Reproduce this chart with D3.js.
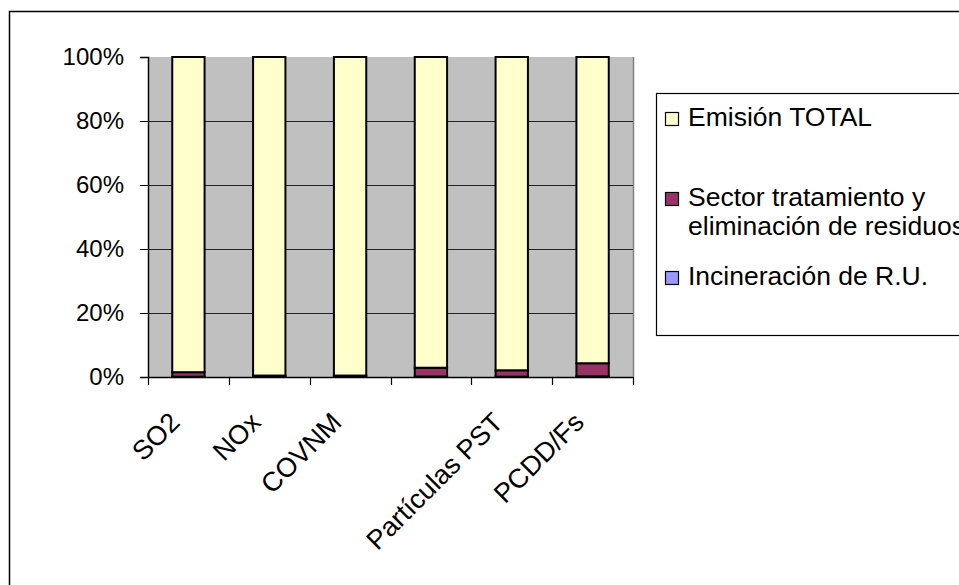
<!DOCTYPE html>
<html>
<head>
<meta charset="utf-8">
<script src="https://cdn.jsdelivr.net/npm/d3@7/dist/d3.min.js"></script>
<style>
  html, body { margin: 0; padding: 0; background: #ffffff; }
  svg { display: block; font-family: "Liberation Sans", Arial, sans-serif; }
</style>
</head>
<body>
<svg id="chart" width="959" height="585"></svg>
<script>
// Contaminantes (la cuarta categoría no lleva rótulo)
const categories = ["SO2", "NOx", "COVNM", "", "Partículas PST", "PCDD/Fs"];
// Participación (%) de cada serie en el total de cada contaminante
const incineracion = [0.1, 0.05, 0.05, 0.15, 0.1, 0.2];
const sectorResiduos = [1.4, 0.4, 0.4, 2.75, 2.0, 4.1];
const emisionTotal = [98.5, 99.55, 99.55, 97.1, 97.9, 95.7];
const seriesNames = ["Incineración de R.U.", "Sector tratamiento y eliminación de residuos", "Emisión TOTAL"];
const seriesColors = ["#9999ff", "#993366", "#ffffcc"];
const yTicks = [0, 0.2, 0.4, 0.6, 0.8, 1.0];

const svg = d3.select("#chart");

// Marco exterior del gráfico
svg.append("rect")
  .attr("x", 9.5).attr("y", 11.5)
  .attr("width", 1000).attr("height", 700)
  .attr("fill", "none").attr("stroke", "#000").attr("stroke-width", 1.5);

const plot = { left: 148, right: 633, top: 57, bottom: 377 };

const x = d3.scaleBand()
  .domain(d3.range(categories.length))
  .range([plot.left, plot.right])
  .paddingInner(0.6).paddingOuter(0.3);

const y = d3.scaleLinear().domain([0, 1]).range([plot.bottom, plot.top]);

// Filas para el apilado al 100 %
const rows = categories.map((c, i) => {
  const sum = incineracion[i] + sectorResiduos[i] + emisionTotal[i];
  return {
    cat: i,
    s0: incineracion[i] / sum,
    s1: sectorResiduos[i] / sum,
    s2: emisionTotal[i] / sum
  };
});
const stacked = d3.stack().keys(["s0", "s1", "s2"])(rows);

// Fondo del área de trazado
svg.append("rect")
  .attr("x", plot.left).attr("y", plot.top)
  .attr("width", plot.right - plot.left).attr("height", plot.bottom - plot.top)
  .attr("fill", "#c0c0c0");

// Líneas de división horizontales
svg.append("g")
  .selectAll("line")
  .data(yTicks.filter(t => t > 0 && t < 1))
  .join("line")
  .attr("x1", plot.left).attr("x2", plot.right)
  .attr("y1", d => Math.round(y(d)) + 0.5).attr("y2", d => Math.round(y(d)) + 0.5)
  .attr("stroke", "#222").attr("stroke-width", 1);

// Borde derecho del área de trazado
svg.append("line")
  .attr("x1", plot.right + 0.5).attr("x2", plot.right + 0.5)
  .attr("y1", plot.top).attr("y2", plot.bottom)
  .attr("stroke", "#808080").attr("stroke-width", 1.5);

// Barras apiladas
svg.append("g")
  .selectAll("g")
  .data(stacked)
  .join("g")
  .attr("fill", (d, i) => seriesColors[i])
  .selectAll("rect")
  .data(d => d)
  .join("rect")
  .attr("x", d => x(d.data.cat))
  .attr("y", d => y(d[1]))
  .attr("width", x.bandwidth())
  .attr("height", d => Math.max(0, y(d[0]) - y(d[1])))
  .attr("stroke", "#000")
  .attr("stroke-width", 2);

// Eje Y
const yAxis = d3.axisLeft(y)
  .tickValues(yTicks)
  .tickFormat(d3.format(".0%"))
  .tickSize(8)
  .tickPadding(16);
const gy = svg.append("g")
  .attr("transform", `translate(${plot.left},0)`)
  .call(yAxis);
gy.select(".domain").attr("stroke", "#000").attr("stroke-width", 1.5);
gy.selectAll(".tick line").attr("stroke", "#000");
gy.selectAll(".tick text")
  .attr("font-size", 24)
  .attr("fill", "#000")
  .attr("font-family", "'Liberation Sans', Arial, sans-serif");

// Eje X: marcas en los límites de cada categoría
const gx = svg.append("g");
gx.append("line")
  .attr("x1", plot.left).attr("x2", plot.right)
  .attr("y1", plot.bottom + 0.5).attr("y2", plot.bottom + 0.5)
  .attr("stroke", "#000").attr("stroke-width", 1.5);
const boundaries = d3.range(categories.length + 1).map(i => plot.left + i * (plot.right - plot.left) / categories.length);
gx.selectAll("line.tick")
  .data(boundaries)
  .join("line")
  .attr("class", "tick")
  .attr("x1", d => Math.round(d) + 0.5).attr("x2", d => Math.round(d) + 0.5)
  .attr("y1", plot.bottom).attr("y2", plot.bottom + 8)
  .attr("stroke", "#000").attr("stroke-width", 1.2);

// Rótulos de categoría girados 45°
gx.selectAll("text")
  .data(categories.map((c, i) => ({ c, i })).filter(d => d.c !== ""))
  .join("text")
  .attr("transform", d => `translate(${x(d.i) + x.bandwidth() / 2 - 7},424) rotate(-45)`)
  .attr("text-anchor", "end")
  .attr("font-size", 27)
  .attr("fill", "#000")
  .text(d => d.c);

// Leyenda
const legend = svg.append("g");
legend.append("rect")
  .attr("x", 656.5).attr("y", 93.5)
  .attr("width", 400).attr("height", 242)
  .attr("fill", "#fff").attr("stroke", "#000").attr("stroke-width", 1.2);

const legendItems = [
  { color: seriesColors[2], lines: ["Emisión TOTAL"], y: 117 },
  { color: seriesColors[1], lines: ["Sector tratamiento y", "eliminación de residuos"], y: 197 },
  { color: seriesColors[0], lines: ["Incineración de R.U."], y: 276 }
];
const li = legend.selectAll("g.item")
  .data(legendItems)
  .join("g")
  .attr("class", "item");
li.append("rect")
  .attr("x", 665.5).attr("y", d => d.y - 4.5)
  .attr("width", 13).attr("height", 13)
  .attr("fill", d => d.color)
  .attr("stroke", "#000").attr("stroke-width", 1.2);
li.append("text")
  .attr("x", 688)
  .attr("y", d => d.y)
  .attr("font-size", 26.5)
  .attr("fill", "#000")
  .selectAll("tspan")
  .data(d => d.lines)
  .join("tspan")
  .attr("x", 688)
  .attr("dy", (d, i) => i === 0 ? "0.35em" : "29px")
  .text(d => d);
</script>
</body>
</html>
